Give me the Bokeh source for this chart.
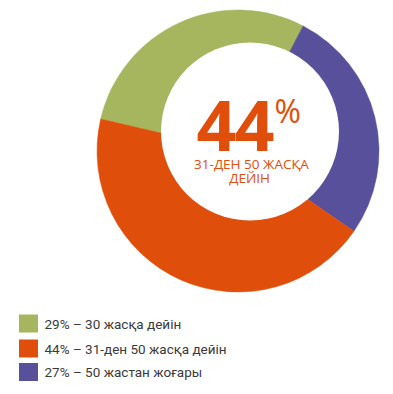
import math
from bokeh.plotting import figure
from bokeh.models import Range1d, ColumnDataSource
from bokeh.core.properties import value
from bokeh.embed import file_html
from bokeh.resources import INLINE

# Data
categories = ["30 жасқа дейін", "31-ден 50 жасқа дейін", "50 жастан жоғары"]
percents = [29, 44, 27]
draw_order = [0, 2, 1]  # clockwise order around the ring: green, purple, orange
colors = ["#A5B65E", "#E04E0B", "#58509A"]
legend_labels = ["29% – 30 жасқа дейін", "44% – 31-ден 50 жасқа дейін", "27% – 50 жастан жоғары"]
center_digits = ["4", "4"]
center_caption = ["31-ДЕН 50 ЖАСҚА", "ДЕЙІН"]

W, H = 385, 386
def X(sx):
    return sx
def Y(sy):
    return H - sy

p = figure(width=W, height=H, output_backend="svg", toolbar_location=None,
           x_range=Range1d(0, W), y_range=Range1d(0, H),
           x_axis_type=None, y_axis_type=None, min_border=0)
p.grid.visible = False
p.outline_line_color = None
p.background_fill_color = "white"
p.border_fill_color = "white"

# Donut
cx, cy, R = X(237.5), Y(150.5), 141
theta0 = -76.9  # clockwise degrees from top where the first slice starts
total = sum(percents)
starts, ends, cols = [], [], []
acc = theta0
for i in draw_order:
    t0 = acc
    t1 = acc + 360.0 * percents[i] / total
    acc = t1
    starts.append(math.radians(90 - t0))
    ends.append(math.radians(90 - t1))
    cols.append(colors[i])
src = ColumnDataSource(dict(x=[cx] * 3, y=[cy] * 3, s=starts, e=ends, c=cols))
p.wedge(x="x", y="y", radius=R, start_angle="s", end_angle="e", direction="clock",
        fill_color="c", line_color="c", line_width=0.5, source=src)

# Offset hole
p.circle(x=[X(249.5)], y=[Y(131)], radius=89, fill_color="white", line_color=None)

# Centre text
orange = colors[1]
p.text(x=[X(216), X(254)], y=[Y(125), Y(125)], text=center_digits, text_font=value("Open Sans"),
       text_font_style="bold", text_font_size="70px", text_color=orange,
       text_align="center", text_baseline="alphabetic")
p.text(x=[X(274)], y=[Y(109.5)], text=["%"], text_font=value("Open Sans"),
       text_font_style="normal", text_font_size="32px", text_color=orange,
       text_align="left", text_baseline="alphabetic")
p.text(x=[X(251), X(249)], y=[Y(163.5), Y(177.5)], text=center_caption,
       text_font=value("Open Sans"), text_font_size="13.5px", text_color=orange,
       text_align="center", text_baseline="alphabetic")

# Legend
ly = [Y(323), Y(348), Y(371.5)]
lsrc = ColumnDataSource(dict(x=[X(28)] * 3, y=ly, c=colors, t=legend_labels, tx=[X(44)] * 3))
p.rect(x="x", y="y", width=19, height=18, fill_color="c", line_color=None, source=lsrc)
p.text(x="tx", y="y", text="t", text_font=value("Roboto"), text_font_size="13.5px",
       text_color="#3a3a3a", text_align="left", text_baseline="middle", source=lsrc)

open("out.html", "w").write(file_html(p, INLINE))
